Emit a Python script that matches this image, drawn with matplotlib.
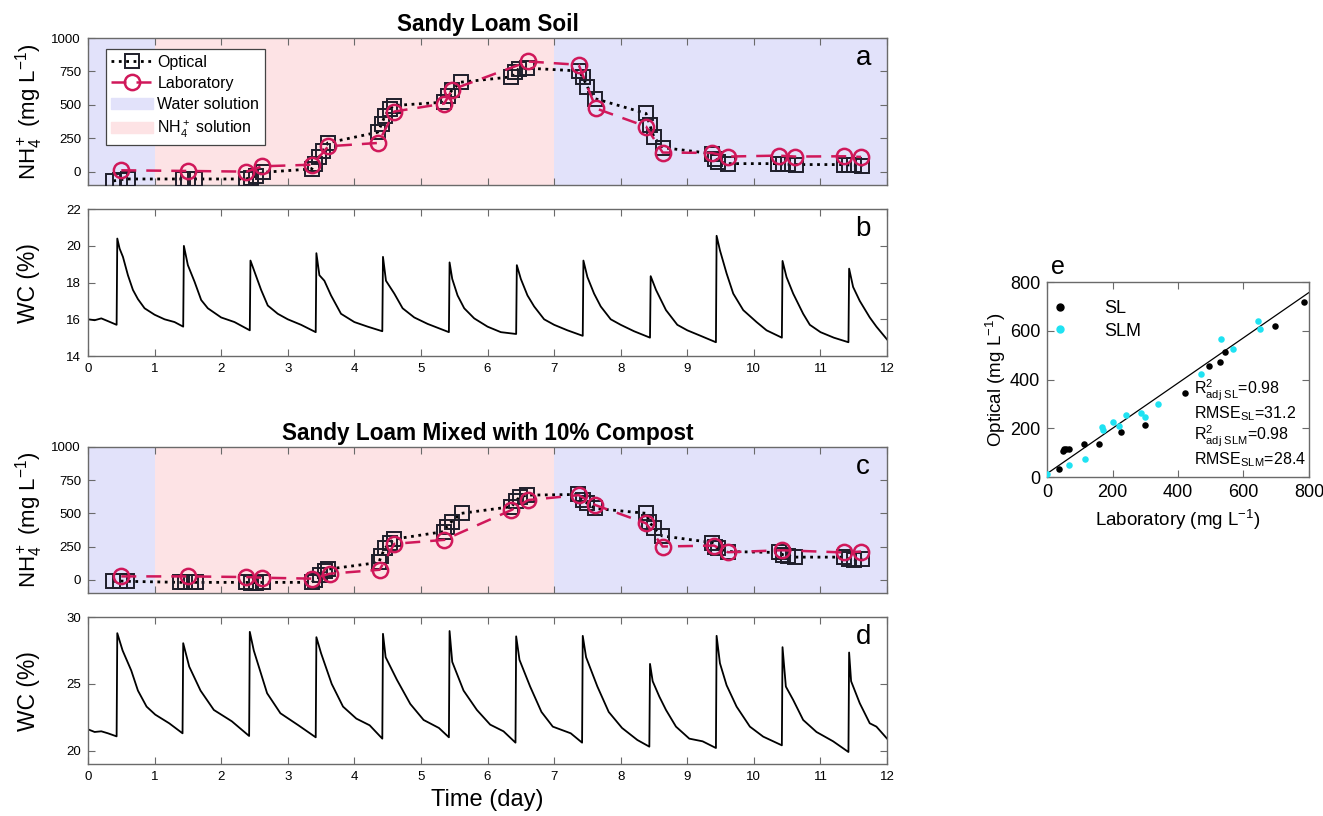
import matplotlib
matplotlib.use("Agg")
import matplotlib.pyplot as plt
import numpy as np
from matplotlib.lines import Line2D
from matplotlib.patches import Patch

plt.rcParams["font.family"] = ["Liberation Sans", "DejaVu Sans"]
plt.rcParams["mathtext.fontset"] = "custom"
plt.rcParams["mathtext.rm"] = "Liberation Sans"
plt.rcParams["mathtext.it"] = "Liberation Sans:italic"
plt.rcParams["mathtext.bf"] = "Liberation Sans:bold"

# ---------------------------------------------------------------------------
# Data
# ---------------------------------------------------------------------------

# solution phases (days)
water_spans = [(0, 1), (7, 12)]
nh4_spans = [(1, 7)]

# (a) Sandy loam soil, NH4+ (mg/L)
sl_opt_t = [0.38, 0.48, 0.60,
            1.43, 1.50, 1.60,
            2.37, 2.45, 2.53, 2.63,
            3.36, 3.41, 3.47, 3.53, 3.60,
            4.35, 4.41, 4.46, 4.53, 4.59,
            5.34, 5.40, 5.47, 5.60,
            6.36, 6.41, 6.47, 6.60,
            7.37, 7.43, 7.50, 7.61,
            8.38, 8.44, 8.50, 8.63,
            9.37, 9.42, 9.46, 9.61,
            10.36, 10.43, 10.51, 10.63,
            11.35, 11.43, 11.51, 11.63]
sl_opt_v = [-70, -60, -55,
            -55, -55, -55,
            -55, -45, -30, -5,
            20, 57, 107, 157, 215,
            295, 357, 420, 470, 495,
            520, 570, 612, 670,
            710, 745, 770, 775,
            754, 709, 634, 547,
            436, 346, 256, 180,
            135, 98, 75, 60,
            60, 57, 55, 53,
            53, 50, 48, 45]
sl_lab_t = [0.50, 1.50, 2.38, 2.62, 3.37, 3.61, 4.36, 4.60, 5.35, 5.47,
            6.61, 7.37, 7.63, 8.38, 8.63, 9.37, 9.61, 10.37, 10.62, 11.36, 11.61]
sl_lab_v = [10, 5, 0, 40, 52, 190, 215, 450, 510, 615,
            825, 800, 473, 338, 143, 140, 113, 120, 113, 115, 110]

# (c) Sandy loam mixed with 10% compost, NH4+ (mg/L)
slm_opt_t = [0.38, 0.48, 0.58,
             1.38, 1.46, 1.54, 1.62,
             2.37, 2.45, 2.53, 2.63,
             3.36, 3.41, 3.48, 3.56, 3.61,
             4.37, 4.40, 4.46, 4.54, 4.59,
             5.34, 5.39, 5.46, 5.61,
             6.36, 6.43, 6.49, 6.60,
             7.36, 7.43, 7.50, 7.61,
             8.38, 8.43, 8.50, 8.62,
             9.37, 9.42, 9.46, 9.61,
             10.37, 10.44, 10.51, 10.62,
             11.35, 11.43, 11.51, 11.63]
slm_opt_v = [-12, -10, -12,
             -20, -20, -20, -20,
             -20, -22, -22, -20,
             -20, 0, 37, 62, 80,
             130, 175, 237, 280, 305,
             362, 400, 437, 500,
             550, 595, 625, 637,
             642, 600, 575, 537,
             500, 437, 387, 330,
             280, 250, 237, 212,
             205, 187, 180, 170,
             170, 155, 150, 155]
slm_lab_t = [0.50, 1.50, 2.37, 2.62, 3.37, 3.63, 4.38, 4.60, 5.35, 6.36,
             6.61, 7.37, 7.62, 8.38, 8.63, 9.40, 9.61, 10.42, 11.36, 11.61]
slm_lab_v = [25, 25, 20, 15, 8, 45, 75, 270, 300, 525,
             600, 637, 562, 425, 250, 257, 207, 222, 205, 212]

# (b) water content, sandy loam (%)
wc_sl_t = [0.0, 0.1, 0.2, 0.3, 0.43,
           0.44, 0.475, 0.525, 0.6, 0.675, 0.75, 0.85, 1.0, 1.15, 1.3, 1.43,
           1.44, 1.5, 1.6, 1.7, 1.8, 2.0, 2.2, 2.43,
           2.44, 2.5, 2.6, 2.7, 2.85, 3.0, 3.2, 3.42,
           3.43, 3.475, 3.55, 3.65, 3.8, 4.0, 4.2, 4.42,
           4.43, 4.475, 4.6, 4.725, 4.9, 5.1, 5.42,
           5.43, 5.47, 5.55, 5.65, 5.8, 6.0, 6.2, 6.43,
           6.44, 6.5, 6.6, 6.7, 6.85, 7.0, 7.2, 7.43,
           7.44, 7.5, 7.6, 7.7, 7.85, 8.0, 8.2, 8.44,
           8.45, 8.53, 8.68, 8.85, 9.0, 9.2, 9.43,
           9.44, 9.49, 9.59, 9.69, 9.84, 10.04, 10.19, 10.42,
           10.43, 10.49, 10.59, 10.74, 10.84, 11.0, 11.2, 11.42,
           11.43, 11.49, 11.59, 11.74, 11.84, 12.0]
wc_sl_v = [16.0, 15.95, 16.05, 15.9, 15.7,
           20.4, 19.85, 19.4, 18.4, 17.6, 17.1, 16.6, 16.25, 16.0, 15.85, 15.6,
           20.0, 18.95, 18.05, 17.05, 16.6, 16.1, 15.85, 15.4,
           19.2, 18.6, 17.6, 16.75, 16.3, 16.0, 15.7, 15.3,
           19.6, 18.4, 18.1, 17.3, 16.3, 15.85, 15.6, 15.35,
           19.4, 18.1, 17.4, 16.6, 16.1, 15.75, 15.3,
           19.1, 18.2, 17.3, 16.6, 16.05, 15.6, 15.3, 15.2,
           18.95, 18.2, 17.3, 16.7, 16.0, 15.7, 15.4, 15.1,
           19.2, 18.3, 17.4, 16.7, 16.0, 15.7, 15.35, 15.0,
           18.35, 17.6, 16.5, 15.7, 15.4, 15.1, 14.75,
           20.55, 19.76, 18.5, 17.4, 16.5, 15.85, 15.4, 15.0,
           19.18, 18.3, 17.4, 16.3, 15.7, 15.3, 15.0, 14.75,
           18.76, 17.76, 17.0, 16.1, 15.6, 14.9]

# (d) water content, sandy loam + compost (%)
wc_slm_t = [0.0, 0.1, 0.2, 0.3, 0.43,
            0.44, 0.52, 0.65, 0.75, 0.88, 1.01, 1.22, 1.42,
            1.43, 1.52, 1.69, 1.89, 2.16, 2.42,
            2.43, 2.49, 2.69, 2.89, 3.16, 3.42,
            3.43, 3.5, 3.66, 3.83, 4.03, 4.23, 4.42,
            4.43, 4.47, 4.64, 4.84, 5.04, 5.27, 5.42,
            5.43, 5.47, 5.64, 5.84, 6.04, 6.24, 6.42,
            6.43, 6.48, 6.64, 6.81, 6.98, 7.25, 7.42,
            7.43, 7.48, 7.65, 7.82, 8.02, 8.25, 8.43,
            8.44, 8.48, 8.58, 8.68, 8.83, 9.03, 9.23, 9.43,
            9.44, 9.49, 9.59, 9.74, 9.94, 10.14, 10.42,
            10.43, 10.48, 10.59, 10.74, 10.94, 11.19, 11.42,
            11.43, 11.46, 11.59, 11.74, 11.84, 12.0]
wc_slm_v = [21.6, 21.4, 21.45, 21.3, 21.07,
            28.8, 27.5, 26.0, 24.5, 23.3, 22.7, 22.05, 21.3,
            28.05, 26.3, 24.5, 23.05, 22.2, 21.1,
            28.9, 27.5, 24.3, 22.8, 21.9, 21.0,
            28.5, 27.3, 25.0, 23.3, 22.4, 21.9, 20.9,
            28.75, 27.0, 25.3, 23.5, 22.3, 21.7, 21.0,
            28.96, 26.65, 24.5, 23.05, 21.95, 21.45, 20.6,
            28.56, 26.8, 24.8, 22.9, 21.8, 21.3, 20.6,
            28.6, 27.0, 24.8, 22.9, 21.7, 20.8, 20.3,
            26.5, 25.2, 24.05, 23.05, 21.8, 20.9, 20.7, 20.2,
            28.6, 26.55, 24.9, 23.3, 21.8, 21.05, 20.4,
            27.75, 24.8, 23.8, 22.3, 21.4, 20.7, 19.9,
            27.35, 25.2, 23.55, 22.05, 21.8, 20.9]

# (e) optical vs laboratory (mg/L)
sl_lab_sc = [36, 49, 53, 59, 66, 114, 158, 226, 300, 420, 494, 528, 543, 695, 784]
sl_opt_sc = [34, 106, 113, 115, 113, 137, 137, 185, 215, 343, 457, 471, 512, 620, 718]
slm_lab_sc = [0, 68, 117, 168, 171, 201, 219, 240, 286, 300, 340, 470, 531, 569, 643, 651]
slm_opt_sc = [11, 48, 73, 206, 192, 226, 209, 254, 263, 247, 298, 421, 565, 524, 640, 607]
# fitted line as drawn in the figure (intercept, value at 800)
fit_lab = [0, 800]
fit_opt = [14, 757]

stats_lines = [r"R$^2_{\rm adj\ SL}$=0.98", r"RMSE$_{\rm SL}$=31.2",
               r"R$^2_{\rm adj\ SLM}$=0.98", r"RMSE$_{\rm SLM}$=28.4"]

# ---------------------------------------------------------------------------
# Style
# ---------------------------------------------------------------------------
C_WATER = "#E2E2FA"
C_NH4 = "#FDE3E5"
C_LAB = "#D0185A"
C_OPT = "#1E1E2A"
C_SPINE = "#6a6a6a"
C_CYAN = "#1FE2F2"

NH4_YLABEL = r"NH$_4^+$ (mg L$^{-1}$)"


def style_axes(ax, labelsize=9.5):
    ax.tick_params(direction="in", top=True, right=True, length=5,
                   width=0.8, color=C_SPINE, labelsize=labelsize, pad=5)
    for sp in ax.spines.values():
        sp.set_color(C_SPINE)
        sp.set_linewidth(1.0)


def nh4_panel(ax, opt_t, opt_v, lab_t, lab_v, letter, title, legend=False):
    for a, b in water_spans:
        ax.axvspan(a, b, color=C_WATER, lw=0, zorder=0)
    for a, b in nh4_spans:
        ax.axvspan(a, b, color=C_NH4, lw=0, zorder=0)
    ax.plot(opt_t, opt_v, ls=":", color="black", lw=2.0, marker="s", ms=10,
            mfc="none", mec=C_OPT, mew=1.4, zorder=3)
    ax.plot(lab_t, lab_v, ls=(0, (6, 4)), color=C_LAB, lw=1.8, marker="o",
            ms=11, mfc="none", mec=C_LAB, mew=1.8, zorder=4)
    ax.set_xlim(0, 12)
    ax.set_ylim(-100, 1000)
    ax.set_xticks(np.arange(0, 13))
    ax.set_xticklabels([])
    ax.set_yticks([0, 250, 500, 750, 1000])
    style_axes(ax)
    ax.set_ylabel(NH4_YLABEL, fontsize=16)
    ax.yaxis.set_label_coords(-0.054, 0.5)
    ax.text(0.97, 0.865, letter, transform=ax.transAxes, fontsize=20,
            ha="center", va="center")
    ax.text(0.5, 1.09, title, transform=ax.transAxes, fontsize=16.3,
            fontweight="bold", ha="center", va="center")
    if legend:
        handles = [
            Line2D([], [], ls=":", color="black", lw=2.0, marker="s", ms=10,
                   mfc="none", mec=C_OPT, mew=1.4),
            Line2D([], [], ls=(0, (6, 4)), color=C_LAB, lw=1.8, marker="o",
                   ms=11, mfc="none", mec=C_LAB, mew=1.8),
            Patch(color=C_WATER),
            Patch(color=C_NH4),
        ]
        labels = ["Optical", "Laboratory", "Water solution",
                  r"NH$_4^+$ solution"]
        leg = ax.legend(handles, labels, loc="upper left", fontsize=11.5,
                        fancybox=False, framealpha=1, edgecolor="#444444",
                        handlelength=2.6, borderpad=0.35, labelspacing=0.4,
                        handletextpad=0.3, bbox_to_anchor=(0.012, 0.98))
        leg.get_frame().set_linewidth(0.9)


def wc_panel(ax, t, v, letter, ylim, yticks, xlabel=False):
    ax.plot(t, v, color="black", lw=1.3)
    ax.set_xlim(0, 12)
    ax.set_ylim(*ylim)
    ax.set_yticks(yticks)
    ax.set_xticks(np.arange(0, 13))
    style_axes(ax)
    ax.set_ylabel("WC (%)", fontsize=16.5)
    ax.yaxis.set_label_coords(-0.06, 0.5)
    ax.text(0.97, 0.865, letter, transform=ax.transAxes, fontsize=20,
            ha="center", va="center")
    if xlabel:
        ax.set_xlabel("Time (day)", fontsize=17)
        ax.xaxis.set_label_coords(0.5, -0.17)


def scatter_panel(ax):
    ax.scatter(sl_lab_sc, sl_opt_sc, s=22, color="black", zorder=3, lw=0)
    ax.scatter(slm_lab_sc, slm_opt_sc, s=22, color=C_CYAN, zorder=3, lw=0)
    ax.plot(fit_lab, fit_opt, color="black", lw=0.9, zorder=2)
    ax.set_xlim(0, 800)
    ax.set_ylim(0, 800)
    ax.set_xticks(np.arange(0, 801, 200))
    ax.set_yticks(np.arange(0, 801, 200))
    style_axes(ax, labelsize=13)
    ax.set_xlabel(r"Laboratory (mg L$^{-1}$)", fontsize=13.5)
    ax.set_ylabel(r"Optical (mg L$^{-1}$)", fontsize=13.5)
    ax.xaxis.set_label_coords(0.5, -0.16)
    ax.yaxis.set_label_coords(-0.15, 0.5)
    ax.text(0.04, 1.075, "e", transform=ax.transAxes, fontsize=18,
            ha="center", va="center")
    handles = [Line2D([], [], ls="none", marker="o", ms=5, color="black"),
               Line2D([], [], ls="none", marker="o", ms=5, color=C_CYAN)]
    ax.legend(handles, ["SL", "SLM"], loc="upper left", frameon=False,
              fontsize=13, handletextpad=1.4, labelspacing=0.3,
              bbox_to_anchor=(-0.08, 0.99))
    for i, s in enumerate(stats_lines):
        ax.text(0.56, 0.445 - i * 0.118, s, transform=ax.transAxes,
                fontsize=11.5, ha="left", va="center")


def main():
    fig = plt.figure(figsize=(13.23, 8.16), dpi=100)
    ax_a = fig.add_axes([0.0665, 0.7733, 0.604, 0.180])
    ax_b = fig.add_axes([0.0665, 0.5637, 0.604, 0.180])
    ax_c = fig.add_axes([0.0665, 0.2733, 0.604, 0.179])
    ax_d = fig.add_axes([0.0665, 0.0637, 0.604, 0.180])
    ax_e = fig.add_axes([0.7914, 0.4154, 0.198, 0.239])

    nh4_panel(ax_a, sl_opt_t, sl_opt_v, sl_lab_t, sl_lab_v, "a",
              "Sandy Loam Soil", legend=True)
    wc_panel(ax_b, wc_sl_t, wc_sl_v, "b", (14, 22), [14, 16, 18, 20, 22])
    nh4_panel(ax_c, slm_opt_t, slm_opt_v, slm_lab_t, slm_lab_v, "c",
              "Sandy Loam Mixed with 10% Compost")
    wc_panel(ax_d, wc_slm_t, wc_slm_v, "d", (19, 30), [20, 25, 30],
             xlabel=True)
    scatter_panel(ax_e)

    fig.savefig("out.png", dpi=100)
    plt.close(fig)


if __name__ == "__main__":
    main()
